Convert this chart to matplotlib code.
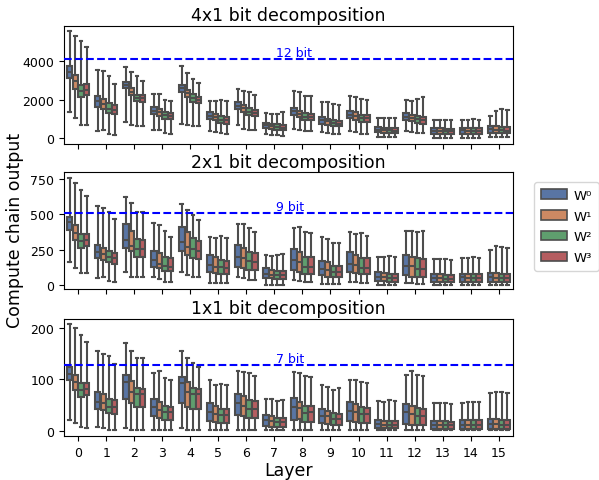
import colorsys
import matplotlib
matplotlib.use("Agg")
import matplotlib.pyplot as plt
import matplotlib.patches as mpatches

layers = list(range(16))
hues = ["W\u2070", "W\u00b9", "W\u00b2", "W\u00b3"]

# Each entry: per layer, per hue: (whislo, q1, med, q3, whishi)
d4 = [
    [(1340, 3115, 3460, 3775, 5570), (1045, 2560, 2960, 3300, 5340), (695, 2125, 2470, 2770, 5080), (680, 2245, 2520, 2820, 4730)],
    [(330, 1635, 1914, 2175, 3567), (383, 1514, 1775, 2018, 3480), (209, 1288, 1514, 1810, 3254), (157, 1253, 1479, 1740, 2819)],
    [(818, 2593, 2750, 2906, 3689), (644, 2262, 2419, 2593, 3428), (592, 1914, 2088, 2262, 3254), (592, 1897, 2071, 2245, 2958)],
    [(383, 1253, 1427, 1601, 2297), (383, 1166, 1340, 1514, 2297), (244, 992, 1200, 1340, 1984), (209, 957, 1131, 1288, 1949)],
    [(731, 2419, 2610, 2767, 3776), (644, 2158, 2332, 2506, 3393), (592, 1897, 2088, 2297, 3080), (592, 1810, 1984, 2158, 2854)],
    [(348, 992, 1166, 1340, 1949), (296, 905, 1079, 1253, 1914), (244, 766, 940, 1114, 2001), (209, 731, 905, 1079, 1914)],
    [(644, 1514, 1688, 1862, 2558), (470, 1375, 1549, 1723, 2436), (418, 1201, 1375, 1549, 2384), (418, 1114, 1288, 1462, 2262)],
    [(174, 522, 644, 766, 1288), (139, 470, 592, 731, 1253), (122, 418, 557, 696, 1253), (104, 383, 522, 679, 1375)],
    [(470, 1218, 1392, 1549, 2471), (383, 1079, 1253, 1392, 2384), (348, 905, 1079, 1288, 2210), (348, 905, 1079, 1253, 2210)],
    [(296, 731, 905, 1079, 1897), (244, 679, 853, 992, 1862), (174, 592, 766, 905, 1775), (174, 592, 731, 870, 1723)],
    [(348, 1027, 1218, 1427, 2210), (296, 940, 1148, 1340, 2123), (209, 818, 1027, 1218, 2036), (209, 818, 1027, 1218, 2001)],
    [(50, 296, 418, 557, 1044), (30, 261, 383, 522, 1044), (30, 244, 383, 505, 1027), (20, 244, 365, 505, 1027)],
    [(348, 905, 1096, 1288, 1984), (296, 870, 1044, 1218, 1949), (244, 783, 957, 1114, 2036), (244, 731, 905, 1079, 2123)],
    [(10, 209, 348, 505, 940), (10, 209, 340, 490, 940), (10, 200, 335, 480, 940), (10, 200, 330, 480, 905)],
    [(10, 209, 383, 522, 905), (10, 209, 370, 515, 905), (10, 205, 365, 510, 992), (10, 200, 360, 505, 905)],
    [(35, 244, 435, 609, 1114), (30, 240, 420, 600, 1392), (25, 235, 400, 590, 1514), (20, 230, 380, 580, 1479)],
]

d2 = [
    [(163, 391, 443, 485, 762), (116, 320, 367, 424, 720), (83, 265, 312, 360, 675), (83, 277, 320, 360, 632)],
    [(45, 187, 230, 282, 561), (52, 178, 218, 265, 544), (28, 159, 194, 241, 514), (17, 147, 187, 225, 466)],
    [(88, 260, 320, 431, 627), (59, 241, 277, 383, 578), (52, 194, 253, 324, 514), (52, 194, 253, 320, 514)],
    [(52, 123, 178, 241, 438), (40, 116, 151, 225, 426), (21, 99, 135, 194, 379), (17, 95, 128, 187, 343)],
    [(92, 241, 305, 414, 573), (69, 213, 272, 372, 533), (59, 187, 253, 329, 497), (59, 182, 241, 312, 462)],
    [(12, 88, 140, 211, 343), (12, 83, 130, 194, 331), (10, 76, 123, 178, 348), (10, 76, 116, 170, 331)],
    [(52, 128, 201, 282, 431), (45, 118, 187, 258, 431), (36, 107, 170, 230, 402), (36, 107, 159, 225, 372)],
    [(2, 47, 80, 116, 211), (2, 45, 73, 107, 206), (2, 40, 69, 95, 211), (2, 40, 69, 95, 218)],
    [(36, 107, 178, 253, 407), (28, 88, 159, 234, 414), (21, 76, 123, 194, 376), (21, 76, 130, 201, 365)],
    [(5, 69, 111, 170, 341), (5, 59, 104, 159, 324), (5, 52, 88, 135, 296), (5, 52, 88, 135, 296)],
    [(17, 88, 147, 230, 376), (17, 83, 140, 215, 360), (12, 76, 116, 192, 367), (12, 76, 116, 187, 348)],
    [(2, 28, 59, 88, 194), (2, 24, 52, 83, 194), (2, 21, 47, 76, 206), (2, 21, 47, 76, 199)],
    [(12, 69, 135, 211, 383), (10, 59, 135, 201, 383), (8, 52, 111, 187, 372), (8, 52, 111, 182, 383)],
    [(2, 21, 47, 76, 182), (2, 21, 45, 74, 182), (2, 20, 44, 72, 182), (2, 20, 43, 70, 178)],
    [(2, 21, 52, 80, 189), (2, 21, 50, 78, 187), (2, 20, 48, 76, 199), (2, 20, 47, 75, 187)],
    [(2, 21, 52, 83, 249), (2, 21, 50, 81, 277), (2, 20, 48, 79, 270), (2, 20, 46, 77, 265)],
]

d1 = [
    [(20, 98, 111, 124, 208), (15, 80, 95, 109, 199), (7, 66, 79, 92, 186), (6, 69, 82, 93, 173)],
    [(8, 43, 56, 75, 156), (6, 41, 54, 71, 150), (1, 34, 47, 62, 145), (1, 32, 46, 59, 129)],
    [(6, 62, 95, 109, 171), (1, 54, 75, 96, 156), (1, 47, 71, 84, 142), (1, 46, 71, 82, 141)],
    [(0.5, 28, 46, 62, 112), (0.5, 25, 40, 56, 116), (0.5, 21, 36, 49, 103), (0.5, 20, 36, 46, 98)],
    [(6, 54, 93, 104, 155), (1, 47, 75, 95, 142), (0.5, 43, 71, 84, 132), (0.5, 42, 72, 82, 124)],
    [(0.5, 19, 36, 54, 98), (0.5, 17, 33, 49, 88), (0.5, 15, 30, 43, 90), (0.5, 15, 30, 43, 88)],
    [(0.5, 30, 54, 71, 117), (0.5, 28, 49, 67, 114), (0.5, 25, 43, 59, 112), (0.5, 25, 43, 57, 106)],
    [(0.5, 10, 20, 30, 62), (0.5, 8, 19, 28, 61), (0.5, 8, 17, 25, 58), (0.5, 7, 17, 25, 59)],
    [(0.5, 21, 47, 63, 115), (0.5, 23, 45, 55, 112), (0.5, 16, 34, 49, 106), (0.5, 16, 37, 49, 104)],
    [(0.5, 15, 29, 42, 89), (0.5, 13, 28, 39, 86), (0.5, 11, 23, 34, 80), (0.5, 11, 23, 32, 84)],
    [(0.5, 19, 39, 56, 99), (0.5, 16, 36, 52, 99), (0.5, 15, 32, 47, 94), (0.5, 15, 32, 45, 93)],
    [(0.5, 6, 14, 21, 57), (0.5, 5, 12, 19, 55), (0.5, 5, 11, 18, 60), (0.5, 5, 11, 18, 57)],
    [(0.5, 13, 36, 52, 109), (0.5, 12, 32, 49, 117), (0.5, 11, 29, 45, 109), (0.5, 11, 28, 43, 107)],
    [(0.5, 3, 12, 19, 54), (0.5, 3, 11, 18, 54), (0.5, 3, 11, 18, 53), (0.5, 3, 11, 17, 51)],
    [(0.5, 3, 12, 21, 53), (0.5, 3, 12, 20, 56), (0.5, 3, 11, 20, 56), (0.5, 3, 11, 20, 56)],
    [(0.5, 3, 13, 23, 73), (0.5, 3, 13, 22, 76), (0.5, 3, 12, 21, 75), (0.5, 3, 12, 21, 73)],
]

titles = ["4x1 bit decomposition", "2x1 bit decomposition", "1x1 bit decomposition"]
bit_lines = [4095, 511, 127]
bit_labels = ["12 bit", "9 bit", "7 bit"]
ylims = [(-313, 5850), (-30, 800), (-10.3, 217.7)]
yticks = [[0, 2000, 4000], [0, 250, 500, 750], [0, 100, 200]]

deep = ["#4C72B0", "#DD8452", "#55A868", "#C44E52"]


def desat(hexc, prop=0.75):
    r, g, b = matplotlib.colors.to_rgb(hexc)
    h, l, s = colorsys.rgb_to_hls(r, g, b)
    return colorsys.hls_to_rgb(h, l, s * prop)


colors = [desat(c) for c in deep]
edge = "#4d4d4d"

fig = plt.figure(figsize=(5.99, 4.81), dpi=100)
boxes = [(0.107, 0.699, 0.749, 0.245), (0.107, 0.397, 0.749, 0.243), (0.107, 0.0915, 0.749, 0.2435)]
axes = [fig.add_axes(b) for b in boxes]

offsets = [-0.3, -0.1, 0.1, 0.3]
bw = 0.2 * 0.98
for ax, data, title, bl, blab, yl, yt in zip(axes, [d4, d2, d1], titles, bit_lines, bit_labels, ylims, yticks):
    for hi in range(4):
        stats = []
        pos = []
        for li in layers:
            lo, q1, med, q3, hiw = data[li][hi]
            stats.append(dict(whislo=lo, q1=q1, med=med, q3=q3, whishi=hiw, fliers=[]))
            pos.append(li + offsets[hi])
        ax.bxp(stats, positions=pos, widths=bw, showfliers=False, patch_artist=True,
               boxprops=dict(facecolor=colors[hi], edgecolor=edge, linewidth=1.5),
               whiskerprops=dict(color=edge, linewidth=1.5),
               capprops=dict(color=edge, linewidth=1.5),
               medianprops=dict(color=edge, linewidth=1.5), manage_ticks=False)
    ax.axhline(bl, color="blue", linestyle="--", linewidth=1.5, zorder=5)
    ax.text(7.05, bl, blab, color="blue", fontsize=9, ha="left", va="bottom")
    ax.set_xlim(-0.5, 15.5)
    ax.set_ylim(*yl)
    ax.set_yticks(yt)
    ax.set_xticks(layers)
    ax.set_title(title, fontsize=12.5, pad=4)
    ax.tick_params(labelsize=9)

axes[0].set_xticklabels([])
axes[1].set_xticklabels([])
axes[2].set_xticklabels([str(l) for l in layers])
axes[2].set_xlabel("Layer", fontsize=12.5, labelpad=2)
fig.text(0.025, 0.52, "Compute chain output", rotation=90, fontsize=12.5, ha="center", va="center")

handles = [mpatches.Patch(facecolor=colors[i], edgecolor=edge, linewidth=1.2, label=hues[i]) for i in range(4)]
fig.legend(handles=handles, loc="center left", bbox_to_anchor=(0.892, 0.527), fontsize=9.5,
           borderaxespad=0, handletextpad=0.5, borderpad=0.5, labelspacing=0.6)

fig.savefig("out.png", dpi=100)
